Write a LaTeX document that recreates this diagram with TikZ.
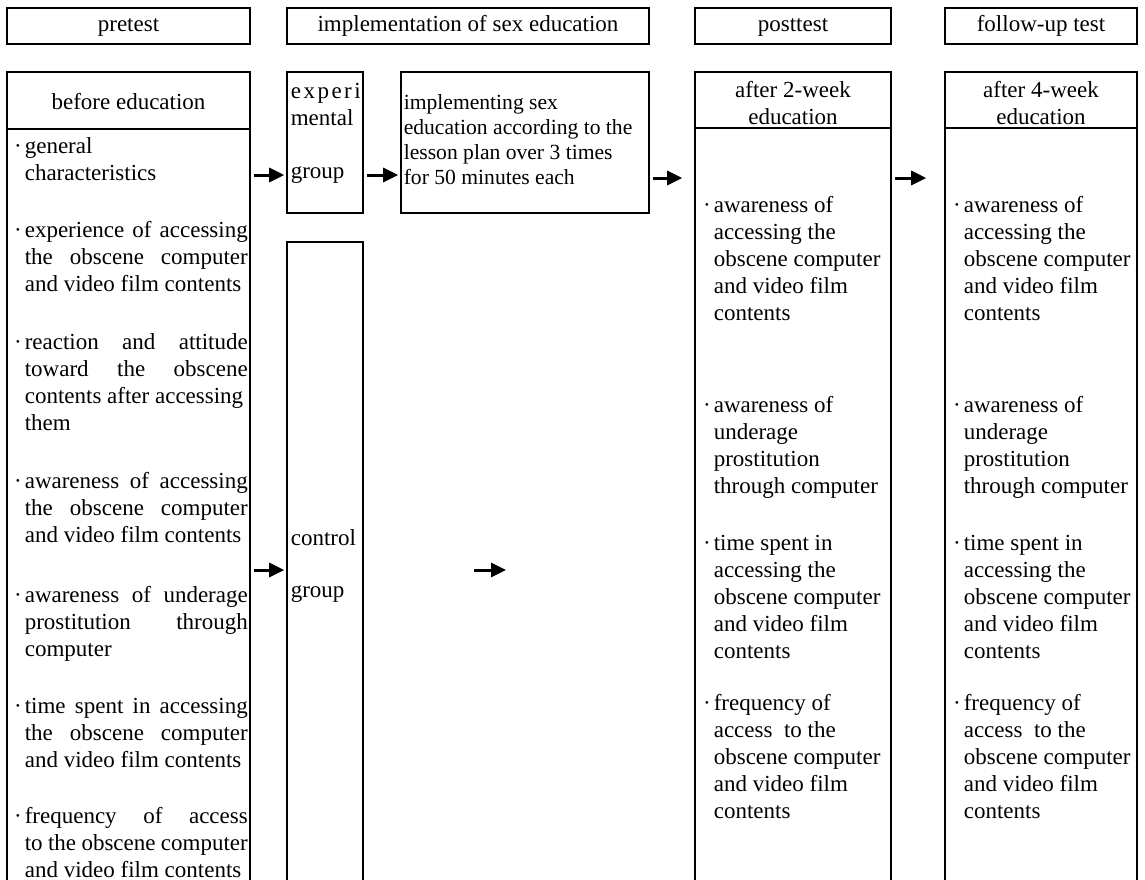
\documentclass[tikz,border=0pt]{standalone}
\usepackage{fontspec}
\setmainfont{Liberation Serif}
\usepackage{tikz}
\usetikzlibrary{arrows.meta,fit,positioning}
\newcommand{\bul}{\llap{·\hspace{1.5pt}}}

\begin{document}
\begin{tikzpicture}[x=0.5pt,y=-0.5pt,>={Triangle[length=7.5pt,width=7pt]},
line width=0.8pt]
\tikzstyle{box}=[draw,inner sep=0pt,line width=0.8pt]
\tikzstyle{head}=[box,minimum height=18pt,text height=7pt,text depth=2pt,font=\fontsize{11.5}{13.5}\selectfont]
\tikzstyle{txt}=[inner sep=0pt,font=\fontsize{11.5}{13.5}\selectfont]
\tikzstyle{item}=[txt,anchor=north west,text width=111.5pt,align=justify]
\tikzstyle{ritem}=[txt,anchor=north west,align=left]
\tikzstyle{go}=[->,line width=1.5pt,shorten <=1.5pt,shorten >=1pt]

\useasboundingbox (0,0) rectangle (1145,879);
\clip (0,0) rectangle (1145,879);

% header row
\node[head,minimum width=121.5pt] (pre)  at (128.5,26) {pretest};
\node[head,minimum width=181pt]   (impl) at (468,26)   {implementation of sex education};
\node[head,minimum width=98pt]    (post) at (793,26)   {posttest};
\node[head,minimum width=96pt]    (fol)  at (1041,26)  {follow-up test};

\coordinate (sepL) at (0,129);
\coordinate (sepR) at (0,128);
\coordinate (rowR) at (0,178);
\coordinate (rowC) at (0,570);

% pretest column
\node[box,fit={(7,72)(250,900)}] (before) {};
\draw (before.west |- sepL) -- (before.east |- sepL);
\node[txt] (beforehd) at (128.5,102) {before education};
\node[item] (b1) at (24,137) {\bul general\\characteristics};
\node[item] (b2) at (24,220) {\bul experience of accessing\linebreak the obscene computer\linebreak and video film contents};
\node[item] (b3) at (24,333) {\bul reaction and attitude\linebreak toward the obscene\linebreak contents after accessing\\them};
\node[item] (b4) at (24,471) {\bul awareness of accessing\linebreak the obscene computer\linebreak and video film contents};
\node[item] (b5) at (24,585) {\bul awareness of underage\linebreak prostitution through\linebreak computer};
\node[item] (b6) at (24,697) {\bul time spent in accessing\linebreak the obscene computer\linebreak and video film contents};
\node[item] (b7) at (24,806) {\bul frequency of access\linebreak to the obscene computer\linebreak and video film contents};

% groups
\node[box,fit={(287,72)(363,213)}] (exp) {};
\node[txt,anchor=north west,align=left] (expname) at (290,82) {\makebox[35pt][s]{e\hfil x\hfil p\hfil e\hfil r\hfil i}\\mental};
\node[txt,anchor=west] (expgroup) at (290,175) {group};
\node[box,fit={(287,242)(363,900)}] (ctrl) {};
\node[txt,anchor=west] (ctrlname) at (290,538) {control};
\node[txt,anchor=west] (ctrlgroup) at (290,594) {group};

\node[box,fit={(401,72)(649,213)}] (edu) {};
\node[txt,anchor=north west,align=left,font=\fontsize{10.8}{12.5}\selectfont] (edutxt) at (403,94)
  {implementing sex\\education according to the\\lesson plan over 3 times\\for 50 minutes each};

% posttest column
\node[box,fit={(695,72)(891,900)}] (two) {};
\draw (two.west |- sepR) -- (two.east |- sepR);
\node[txt,align=center] (twohd) at (793,103) {after 2-week\\education};
\node[ritem] (t1) at (713,195) {\bul awareness of\\accessing the\\obscene computer\\and video film\\contents};
\node[ritem] (t2) at (713,395) {\bul awareness of\\underage\\prostitution\\through computer};
\node[ritem] (t3) at (713,534) {\bul time spent in\\accessing the\\obscene computer\\and video film\\contents};
\node[ritem] (t4) at (713,693) {\bul frequency of\\access\ \ to the\\obscene computer\\and video film\\contents};

% follow-up column
\node[box,fit={(945,72)(1137,900)}] (four) {};
\draw (four.west |- sepR) -- (four.east |- sepR);
\node[txt,align=center] (fourhd) at (1041,103) {after 4-week\\education};
\node[ritem] (f1) at (963,195) {\bul awareness of\\accessing the\\obscene computer\\and video film\\contents};
\node[ritem] (f2) at (963,395) {\bul awareness of\\underage\\prostitution\\through computer};
\node[ritem] (f3) at (963,534) {\bul time spent in\\accessing the\\obscene computer\\and video film\\contents};
\node[ritem] (f4) at (963,693) {\bul frequency of\\access\ \ to the\\obscene computer\\and video film\\contents};

% arrows
\coordinate (ctrlfrom) at (474,570);
\coordinate (ctrlto) at (506,570);
\draw[go] (before.east |- expgroup) -- (exp.west |- expgroup);
\draw[go] (exp.east |- expgroup) -- (edu.west |- expgroup);
\draw[go,shorten >=6pt] (edu.east |- rowR) -- (two.west |- rowR);
\draw[go,shorten >=9pt] (two.east |- rowR) -- (four.west |- rowR);
\draw[go] (before.east |- rowC) -- (ctrl.west |- rowC);
\draw[go,shorten <=0pt,shorten >=0pt] (ctrlfrom) -- (ctrlto);

\end{tikzpicture}
\end{document}
